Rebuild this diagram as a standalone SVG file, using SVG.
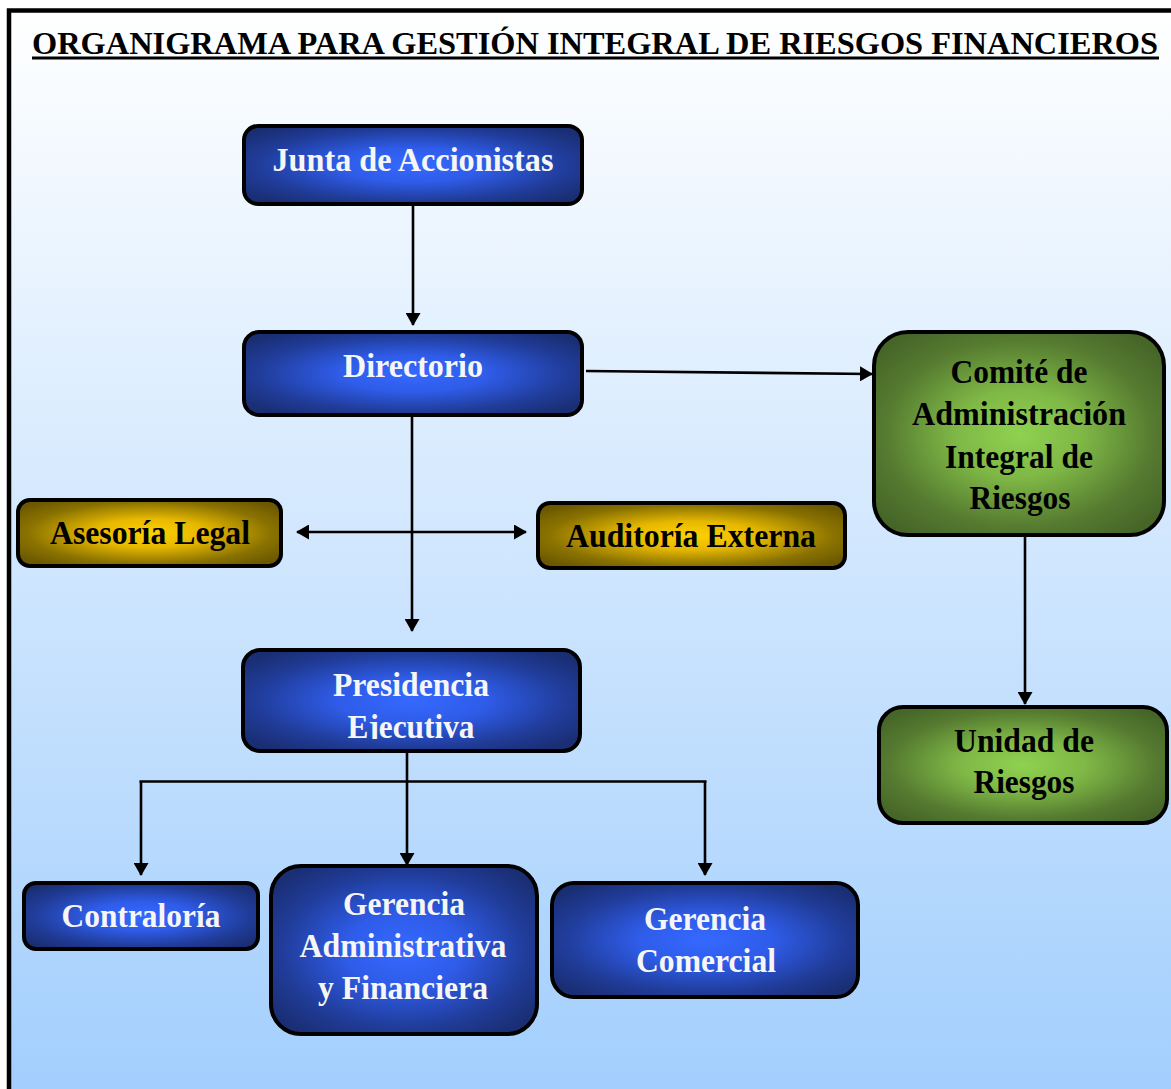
<svg xmlns="http://www.w3.org/2000/svg" width="1171" height="1089" viewBox="0 0 1171 1089">
  <defs>
    <linearGradient id="bg" x1="0" y1="0" x2="0" y2="1">
      <stop offset="0" stop-color="#ffffff"/>
      <stop offset="1" stop-color="#98c9fd"/>
    </linearGradient>
    <radialGradient id="blue" cx="0.5" cy="0.5" r="0.62">
      <stop offset="0" stop-color="#3569ff"/>
      <stop offset="0.35" stop-color="#2f5ce9"/>
      <stop offset="0.75" stop-color="#203c98"/>
      <stop offset="1" stop-color="#1a2e74"/>
    </radialGradient>
    <radialGradient id="gold" cx="0.5" cy="0.5" r="0.62">
      <stop offset="0" stop-color="#ffd000"/>
      <stop offset="0.35" stop-color="#e6b800"/>
      <stop offset="0.75" stop-color="#8a7200"/>
      <stop offset="1" stop-color="#6b5800"/>
    </radialGradient>
    <radialGradient id="green" cx="0.5" cy="0.5" r="0.62">
      <stop offset="0" stop-color="#8fd150"/>
      <stop offset="0.35" stop-color="#7fb846"/>
      <stop offset="0.75" stop-color="#557a30"/>
      <stop offset="1" stop-color="#466628"/>
    </radialGradient>
    <marker id="arrow" viewBox="0 0 13 15" refX="12" refY="7.5" markerWidth="13" markerHeight="15" markerUnits="userSpaceOnUse" orient="auto-start-reverse">
      <path d="M0,0 L13,7.5 L0,15 Z" fill="#000"/>
    </marker>
    <clipPath id="presClip">
      <rect x="242" y="648" width="339" height="91"/>
    </clipPath>
    <style>
      .box { stroke: #000; stroke-width: 4; }
      .b { fill: url(#blue); }
      .g { fill: url(#gold); }
      .v { fill: url(#green); }
      .t { font-family: "Liberation Serif", "Times New Roman", serif; font-weight: bold; font-size: 33.5px; text-anchor: middle; }
      .w { fill: #f6f6f6; }
      .k { fill: #000; }
      .line { stroke: #000; stroke-width: 2.6; fill: none; }
    </style>
  </defs>

  <!-- page background and frame -->
  <rect x="0" y="0" width="1171" height="1089" fill="#ffffff"/>
  <rect x="9" y="10.5" width="1200" height="1200" fill="url(#bg)" stroke="#000" stroke-width="4.5"/>

  <!-- title -->
  <g id="title">
    <text x="32" y="54" class="k" font-family="'Liberation Serif', 'Times New Roman', serif" font-weight="bold" font-size="32.4" textLength="1126" lengthAdjust="spacingAndGlyphs">ORGANIGRAMA PARA GESTIÓN INTEGRAL  DE RIESGOS FINANCIEROS</text>
    <rect x="32" y="56.5" width="1127" height="3" fill="#000"/>
  </g>

  <!-- connectors -->
  <g id="connectors">
    <line class="line" x1="413" y1="205" x2="413" y2="325" marker-end="url(#arrow)"/>
    <line class="line" x1="586" y1="371" x2="872" y2="374" marker-end="url(#arrow)"/>
    <line class="line" x1="412" y1="416" x2="412" y2="631" marker-end="url(#arrow)"/>
    <line class="line" x1="297" y1="532" x2="526" y2="532" marker-start="url(#arrow)" marker-end="url(#arrow)"/>
    <line class="line" x1="1025" y1="537" x2="1025" y2="704" marker-end="url(#arrow)"/>
    <line class="line" x1="407" y1="753" x2="407" y2="865" marker-end="url(#arrow)"/>
    <line class="line" x1="139.5" y1="781.5" x2="706.5" y2="781.5" stroke-width="3"/>
    <line class="line" x1="141" y1="781" x2="141" y2="875" marker-end="url(#arrow)"/>
    <line class="line" x1="705" y1="781" x2="705" y2="875" marker-end="url(#arrow)"/>
  </g>

  <!-- nodes -->
  <g id="junta">
    <rect class="box b" x="244" y="126" width="338" height="78" rx="14"/>
    <text class="t w" x="413" y="171" textLength="281" lengthAdjust="spacingAndGlyphs">Junta de Accionistas</text>
  </g>

  <g id="directorio">
    <rect class="box b" x="244" y="332" width="338" height="83" rx="15"/>
    <text class="t w" x="413" y="377" textLength="140" lengthAdjust="spacingAndGlyphs">Directorio</text>
  </g>

  <g id="asesoria">
    <rect class="box g" x="18" y="500" width="263" height="66" rx="12"/>
    <text class="t k" x="150" y="544" textLength="200" lengthAdjust="spacingAndGlyphs">Asesoría Legal</text>
  </g>

  <g id="auditoria">
    <rect class="box g" x="538" y="503" width="307" height="65" rx="12"/>
    <text class="t k" x="691" y="547" textLength="250" lengthAdjust="spacingAndGlyphs">Auditoría Externa</text>
  </g>

  <g id="comite">
    <rect class="box v" x="874" y="332" width="290" height="203" rx="34"/>
    <text class="t k" x="1019" y="383" textLength="137" lengthAdjust="spacingAndGlyphs">Comité de</text>
    <text class="t k" x="1019" y="425" textLength="214" lengthAdjust="spacingAndGlyphs">Administración</text>
    <text class="t k" x="1019" y="468" textLength="148" lengthAdjust="spacingAndGlyphs">Integral de</text>
    <text class="t k" x="1020" y="509" textLength="101" lengthAdjust="spacingAndGlyphs">Riesgos</text>
  </g>

  <g id="presidencia">
    <rect class="box b" x="243" y="650" width="337" height="101" rx="17"/>
    <text class="t w" x="411" y="696" textLength="156" lengthAdjust="spacingAndGlyphs">Presidencia</text>
    <text class="t w" x="411" y="738" textLength="127" lengthAdjust="spacingAndGlyphs" clip-path="url(#presClip)">Ejecutiva</text>
  </g>

  <g id="unidad">
    <rect class="box v" x="879" y="707" width="288" height="116" rx="24"/>
    <text class="t k" x="1024" y="752" textLength="140" lengthAdjust="spacingAndGlyphs">Unidad de</text>
    <text class="t k" x="1024" y="793" textLength="101" lengthAdjust="spacingAndGlyphs">Riesgos</text>
  </g>

  <g id="contraloria">
    <rect class="box b" x="24" y="883" width="234" height="66" rx="12"/>
    <text class="t w" x="141" y="927" textLength="159" lengthAdjust="spacingAndGlyphs">Contraloría</text>
  </g>

  <g id="gerencia-administrativa">
    <rect class="box b" x="271" y="866" width="266" height="168" rx="30"/>
    <text class="t w" x="404" y="915" textLength="122" lengthAdjust="spacingAndGlyphs">Gerencia</text>
    <text class="t w" x="403" y="957" textLength="207" lengthAdjust="spacingAndGlyphs">Administrativa</text>
    <text class="t w" x="403" y="999" textLength="170" lengthAdjust="spacingAndGlyphs">y Financiera</text>
  </g>

  <g id="gerencia-comercial">
    <rect class="box b" x="552" y="883" width="306" height="114" rx="22"/>
    <text class="t w" x="705" y="930" textLength="122" lengthAdjust="spacingAndGlyphs">Gerencia</text>
    <text class="t w" x="706" y="972" textLength="140" lengthAdjust="spacingAndGlyphs">Comercial</text>
  </g>
</svg>
